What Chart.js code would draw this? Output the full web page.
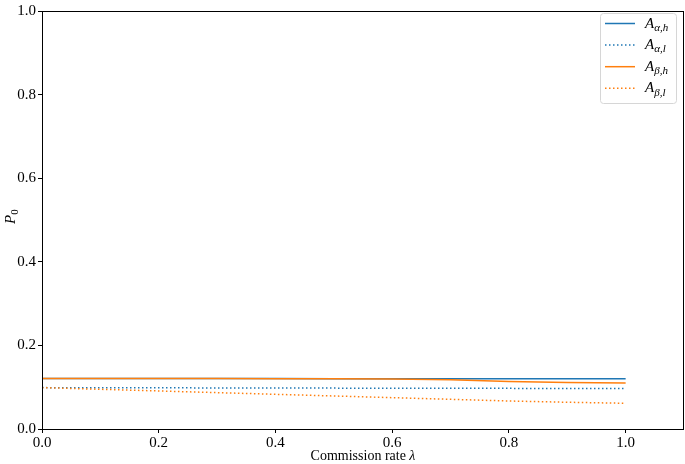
<!DOCTYPE html>
<html>
<head>
<meta charset="utf-8">
<script src="https://cdn.jsdelivr.net/npm/chart.js@4/dist/chart.umd.min.js"></script>
<style>
  html, body { margin: 0; padding: 0; background: #fff; }
  #wrap { width: 685px; height: 464px; }
  canvas { display: block; }
</style>
</head>
<body>
<div id="wrap"><canvas id="c" width="685" height="464"></canvas></div>
<script>
/* P0 vs commission rate, four series, matplotlib look. */
var lambdas = [0, 0.1, 0.2, 0.3, 0.4, 0.5, 0.6, 0.7, 0.8, 0.9, 1.0];
var alphaH = [0.121, 0.121, 0.121, 0.121, 0.1208, 0.1205, 0.1205, 0.1203, 0.120, 0.120, 0.120];
var alphaL = [0.099, 0.0988, 0.0985, 0.0983, 0.098, 0.0978, 0.0976, 0.0974, 0.0972, 0.097, 0.097];
var betaH = [0.121, 0.121, 0.1208, 0.1206, 0.1204, 0.1202, 0.1198, 0.118, 0.1135, 0.111, 0.110];
var betaL = [0.099, 0.095, 0.091, 0.087, 0.083, 0.079, 0.075, 0.071, 0.067, 0.064, 0.0615];
var xTicks = [0, 0.2, 0.4, 0.6, 0.8, 1.0];
var yTicks = [0, 0.2, 0.4, 0.6, 0.8, 1.0];

var BLUE = '#1f77b4', ORANGE = '#ff7f0e';
var SERIF = '"Liberation Serif", "DejaVu Serif", serif';

function pts(ys) { return lambdas.map(function (x, i) { return { x: x, y: ys[i] }; }); }

var series = [
  { data: alphaH, color: BLUE, dash: [], main: 'A', sub: 'α,h', order: 4 },
  { data: alphaL, color: BLUE, dash: [1.5, 2.5], main: 'A', sub: 'α,l', order: 3 },
  { data: betaH, color: ORANGE, dash: [], main: 'A', sub: 'β,h', order: 2 },
  { data: betaL, color: ORANGE, dash: [1.5, 2.5], main: 'A', sub: 'β,l', order: 1 }
];

function mathText(ctx, x, y, main, sub, size, subStyle) {
  ctx.font = 'italic ' + size + 'px ' + SERIF;
  ctx.fillText(main, x, y);
  var w = ctx.measureText(main).width;
  ctx.font = (subStyle || 'italic') + ' ' + Math.round(size * 0.72) + 'px ' + SERIF;
  ctx.fillText(sub, x + w, y + size * 0.22);
}

var decor = {
  id: 'decor',
  afterDraw: function (chart) {
    var ctx = chart.ctx, a = chart.chartArea;
    ctx.save();
    // frame
    ctx.strokeStyle = '#000';
    ctx.lineWidth = 1;
    ctx.strokeRect(Math.round(a.left) + 0.5, Math.round(a.top) + 0.5,
      Math.round(a.right - a.left) - 1, Math.round(a.bottom - a.top));
    // axis titles
    ctx.fillStyle = '#000';
    ctx.textBaseline = 'alphabetic';
    ctx.textAlign = 'left';
    var t1 = 'Commission rate ';
    ctx.font = '14px ' + SERIF;
    var w1 = ctx.measureText(t1).width;
    ctx.font = 'italic 14px ' + SERIF;
    var w2 = ctx.measureText('λ').width;
    var cx = (a.left + a.right) / 2 - (w1 + w2) / 2;
    ctx.font = '14px ' + SERIF;
    ctx.fillText(t1, cx, 460);
    ctx.font = 'italic 14px ' + SERIF;
    ctx.fillText('λ', cx + w1, 460);

    ctx.save();
    ctx.translate(15, 224);
    ctx.rotate(-Math.PI / 2);
    mathText(ctx, 0, 0, 'P', '0', 15, 'normal');
    ctx.restore();

    // legend
    var lx = 600.5, ly = 13.5, lw = 76, lh = 90;
    ctx.fillStyle = 'rgba(255,255,255,0.85)';
    ctx.strokeStyle = '#d6d6d6';
    ctx.lineWidth = 1;
    ctx.beginPath();
    if (ctx.roundRect) { ctx.roundRect(lx, ly, lw, lh, 3); } else { ctx.rect(lx, ly, lw, lh); }
    ctx.fill();
    ctx.stroke();
    series.forEach(function (s, i) {
      var yy = 23.5 + i * 21.6;
      ctx.strokeStyle = s.color;
      ctx.lineWidth = 1.5;
      ctx.setLineDash(s.dash);
      ctx.beginPath();
      ctx.moveTo(605, yy);
      ctx.lineTo(635, yy);
      ctx.stroke();
      ctx.setLineDash([]);
      ctx.fillStyle = '#000';
      mathText(ctx, 645, yy + 4, s.main, s.sub, 15);
    });
    ctx.restore();
  }
};

new Chart(document.getElementById('c'), {
  type: 'line',
  data: {
    datasets: series.map(function (s) {
      return {
        data: pts(s.data),
        borderColor: s.color,
        borderWidth: 1.5,
        borderDash: s.dash,
        pointRadius: 0,
        tension: 0,
        fill: false,
        order: s.order
      };
    })
  },
  options: {
    responsive: false,
    animation: false,
    events: [],
    layout: { padding: { top: 6, right: 1, left: 0, bottom: 0 } },
    plugins: { legend: { display: false }, tooltip: { enabled: false } },
    scales: {
      x: {
        type: 'linear', min: 0, max: 1.1,
        afterBuildTicks: function (ax) { ax.ticks = xTicks.map(function (v) { return { value: v }; }); },
        afterFit: function (ax) { ax.height = 35; },
        grid: { display: true, drawOnChartArea: false, drawTicks: true, tickLength: 4, color: '#000' },
        border: { display: false },
        ticks: {
          color: '#000', padding: 1, maxRotation: 0,
          font: { family: SERIF, size: 15 },
          callback: function (v) { return v.toFixed(1); }
        }
      },
      y: {
        type: 'linear', min: 0, max: 1.0,
        afterBuildTicks: function (ax) { ax.ticks = yTicks.map(function (v) { return { value: v }; }); },
        afterFit: function (ax) { ax.width = 42; },
        grid: { display: true, drawOnChartArea: false, drawTicks: true, tickLength: 4, color: '#000' },
        border: { display: false },
        ticks: {
          color: '#000', padding: 2,
          font: { family: SERIF, size: 15 },
          callback: function (v) { return v.toFixed(1); }
        }
      }
    }
  },
  plugins: [decor]
});
</script>
</body>
</html>
